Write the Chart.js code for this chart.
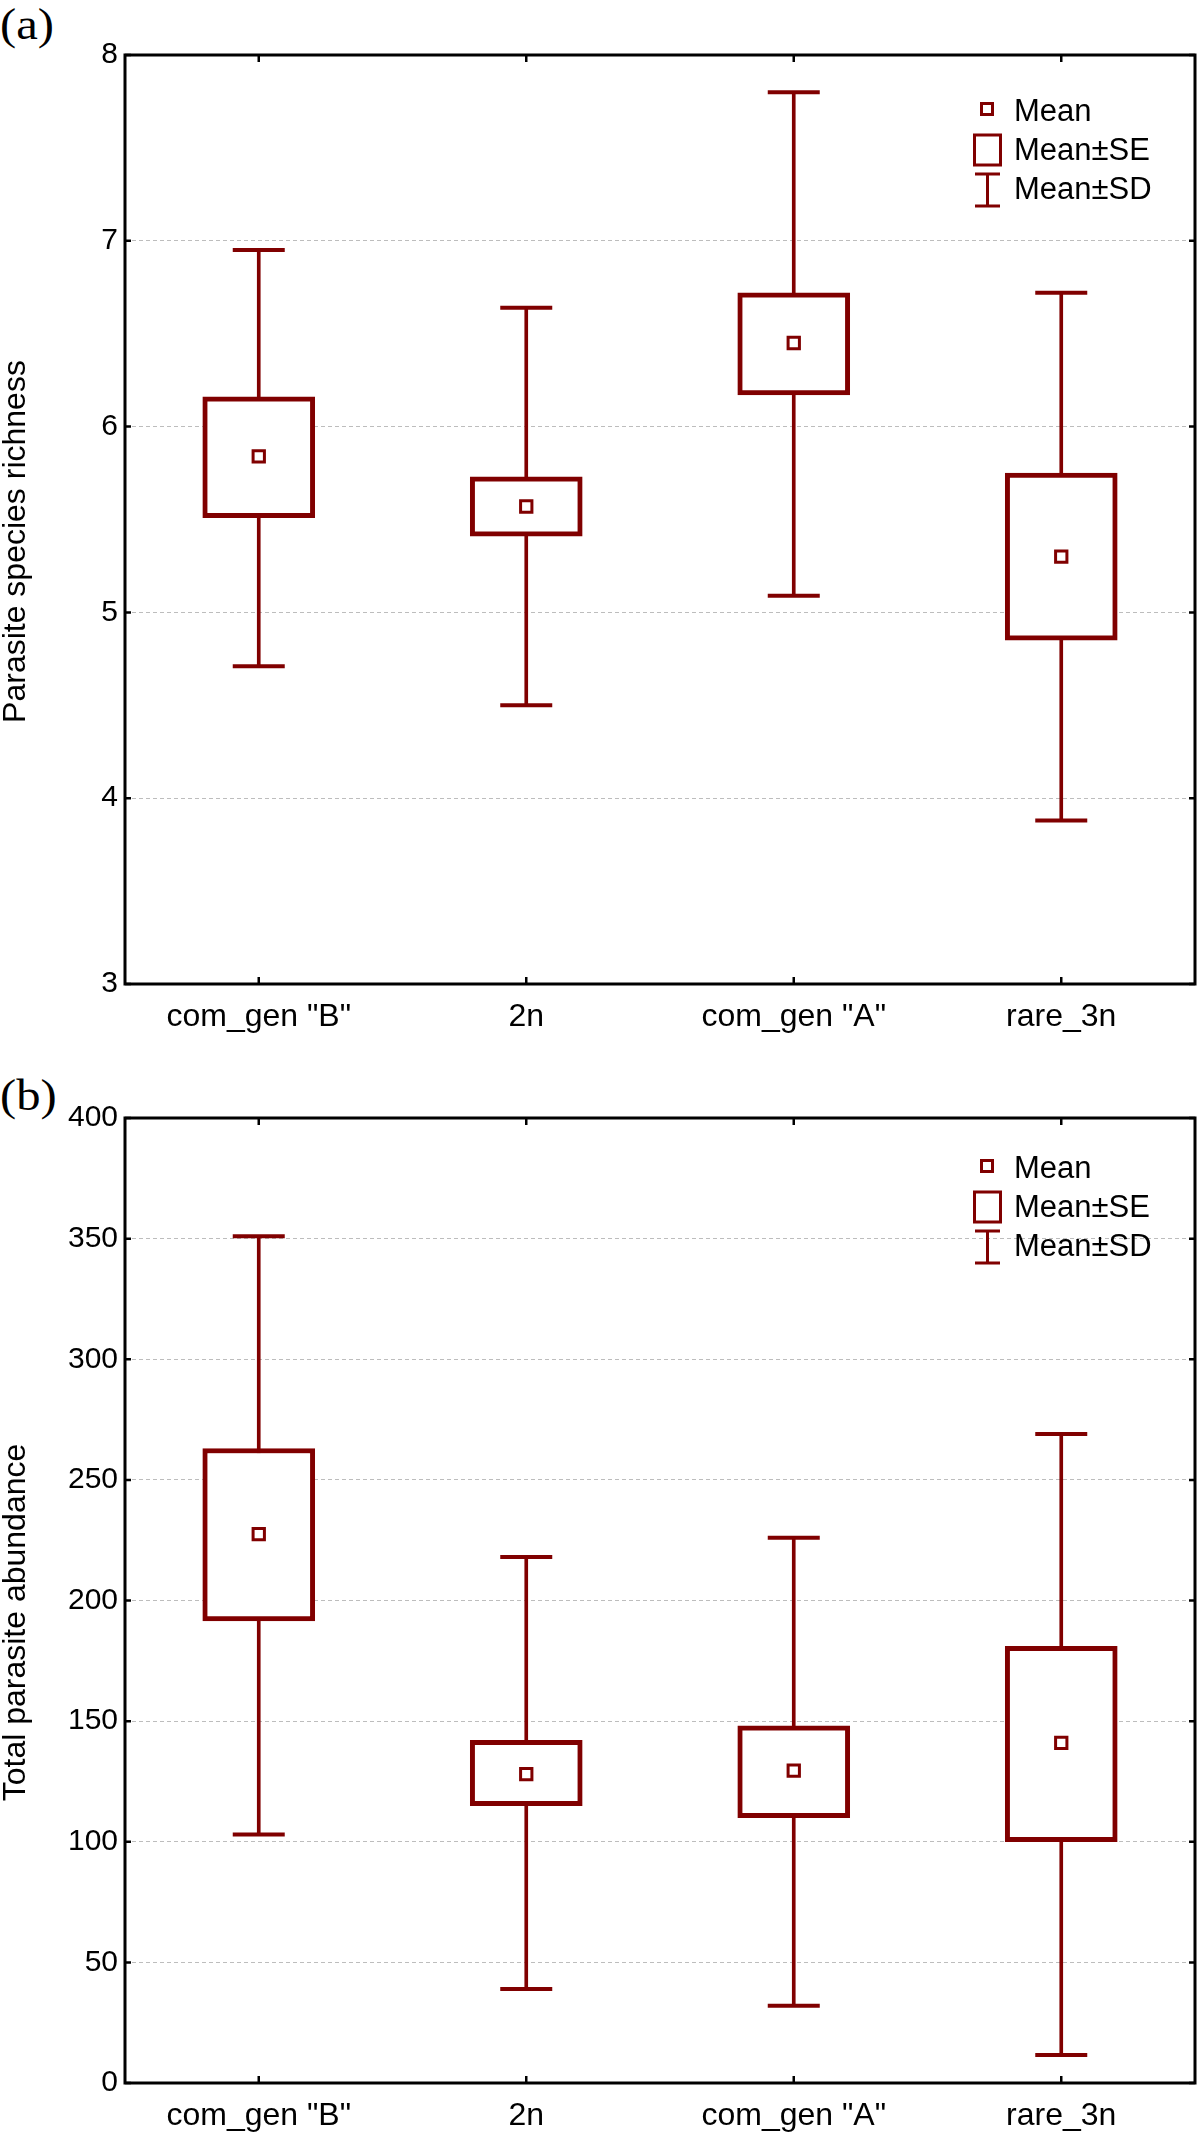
<!DOCTYPE html>
<html>
<head>
<meta charset="utf-8">
<script src="https://cdn.jsdelivr.net/npm/chart.js@4.4.1/dist/chart.umd.min.js"></script>
<style>
  html, body { margin: 0; padding: 0; background: #fff; }
  body { width: 1200px; height: 2132px; position: relative; overflow: hidden; }
  .panel { position: absolute; left: 0; width: 1200px; }
  .plabel { position: absolute; font-family: "Liberation Serif", "Times New Roman", serif; font-size: 45px; color: #000; line-height: 1; transform: scaleX(1.08); transform-origin: 0 0; }
</style>
</head>
<body>
<div class="plabel" style="left:0px; top:2px;">(a)</div>
<div class="plabel" style="left:0px; top:1073px;">(b)</div>
<div class="panel" style="top:0px; height:1062px;"><canvas id="c1" width="1200" height="1062"></canvas></div>
<div class="panel" style="top:1062px; height:1070px;"><canvas id="c2" width="1200" height="1070"></canvas></div>
<script>
// ---------- data ----------
const categories = ['com_gen "B"', '2n', 'com_gen "A"', 'rare_3n'];

// (a) Parasite species richness
const richMean   = [5.84, 5.57, 6.45, 5.30];
const richSeLow  = [5.51, 5.41, 6.17, 4.85];
const richSeHigh = [6.16, 5.73, 6.72, 5.75];
const richSdLow  = [4.71, 4.50, 5.09, 3.88];
const richSdHigh = [6.95, 6.64, 7.80, 6.72];
const richAxis   = { min: 3, max: 8, step: 1 };

// (b) Total parasite abundance
const abMean   = [227.5, 128, 129.5, 141];
const abSeLow  = [191.5, 115, 110, 100];
const abSeHigh = [263, 142, 148, 181];
const abSdLow  = [103, 39, 32, 11.6];
const abSdHigh = [351, 218, 226, 269];
const abAxis   = { min: 0, max: 400, step: 50 };

const legendLabels = ['Mean', 'Mean\u00B1SE', 'Mean\u00B1SD'];

// ---------- style ----------
const RED = '#800000';
const FONT = '"Liberation Sans", Arial, Helvetica, sans-serif';

const framePlugin = {
  id: 'frame',
  afterDraw(chart, args, o) {
    const { ctx, chartArea: a } = chart;
    const xs = chart.scales.x, ys = chart.scales.y;
    ctx.save();
    ctx.strokeStyle = '#000';
    ctx.lineWidth = 3;
    ctx.strokeRect(a.left, a.top, a.right - a.left, a.bottom - a.top);
    // inward tick marks
    ctx.lineWidth = 2.5;
    ctx.beginPath();
    ys.ticks.forEach((t, i) => {
      const y = ys.getPixelForTick(i);
      ctx.moveTo(a.left, y); ctx.lineTo(a.left + 6, y);
      ctx.moveTo(a.right, y); ctx.lineTo(a.right - 6, y);
    });
    xs.ticks.forEach((t, i) => {
      const x = xs.getPixelForTick(i);
      ctx.moveTo(x, a.bottom); ctx.lineTo(x, a.bottom - 7);
      ctx.moveTo(x, a.top); ctx.lineTo(x, a.top + 7);
    });
    ctx.stroke();

    // y axis title
    ctx.save();
    ctx.fillStyle = '#000';
    ctx.font = '32px ' + FONT;
    ctx.textAlign = 'center';
    ctx.textBaseline = 'middle';
    ctx.translate(16, (ys.top + ys.bottom) / 2 + o.titleShift);
    ctx.rotate(-Math.PI / 2);
    ctx.fillText(o.title, 0, 0);
    ctx.restore();

    // legend
    const sx = a.right - 208;
    const tx = a.right - 181;
    const t0 = a.top + o.legShift;
    const g = o.legGap;
    ctx.strokeStyle = RED;
    ctx.lineWidth = 3;
    ctx.strokeRect(sx - 5.5, t0 + 48.5, 11, 11);
    ctx.strokeRect(sx - 12.5, t0 + 80 - (39 - g), 26, 30);
    ctx.beginPath();
    const w1 = t0 + 119 - 2 * (39 - g), w2 = w1 + 32;
    ctx.moveTo(sx - 12, w1); ctx.lineTo(sx + 13, w1);
    ctx.moveTo(sx + 0.5, w1); ctx.lineTo(sx + 0.5, w2);
    ctx.moveTo(sx - 12, w2); ctx.lineTo(sx + 13, w2);
    ctx.stroke();
    ctx.fillStyle = '#000';
    ctx.font = '31px ' + FONT;
    ctx.textBaseline = 'alphabetic';
    ctx.textAlign = 'left';
    ctx.fillText(legendLabels[0], tx, t0 + 66);
    ctx.fillText(legendLabels[1], tx, t0 + 66 + g);
    ctx.fillText(legendLabels[2], tx, t0 + 66 + 2 * g);
    ctx.restore();
  }
};

function makeChart(id, opts) {
  const { mean, seLow, seHigh, sdLow, sdHigh, axis, title, padTop, xHeight, titleShift, legShift, legGap } = opts;
  return new Chart(document.getElementById(id), {
    type: 'bar',
    data: {
      labels: categories,
      datasets: [
        {
          type: 'line', label: 'Mean', data: mean, showLine: false,
          pointStyle: 'rect', pointRadius: 8, pointBorderWidth: 3,
          pointBackgroundColor: '#fff', pointBorderColor: RED, order: 0
        },
        {
          type: 'bar', label: 'Mean\u00B1SE',
          data: seLow.map((l, i) => [l, seHigh[i]]),
          backgroundColor: '#fff', borderColor: RED, borderWidth: 5,
          borderSkipped: false, barThickness: 112, grouped: false, order: 1
        },
        {
          type: 'line', label: 'SD+', data: sdHigh, showLine: false,
          pointStyle: 'line', pointRadius: 26, pointBorderWidth: 4,
          pointBorderColor: RED, order: 2
        },
        {
          type: 'line', label: 'SD-', data: sdLow, showLine: false,
          pointStyle: 'line', pointRadius: 26, pointBorderWidth: 4,
          pointBorderColor: RED, order: 2
        },
        {
          type: 'bar', label: 'Mean\u00B1SD',
          data: sdLow.map((l, i) => [l, sdHigh[i]]),
          backgroundColor: RED, borderWidth: 0,
          barThickness: 3, grouped: false, order: 3
        }
      ]
    },
    options: {
      responsive: false,
      animation: false,
      devicePixelRatio: 1,
      layout: { autoPadding: false, padding: { top: padTop, right: 5, left: 0, bottom: 0 } },
      plugins: {
        legend: { display: false }, tooltip: { enabled: false },
        frame: { title, titleShift, legShift, legGap }
      },
      scales: {
        x: {
          type: 'category',
          offset: true,
          grid: { display: false, drawTicks: false },
          border: { display: false },
          ticks: { color: '#000', font: { family: FONT, size: 32 }, padding: 14, maxRotation: 0, autoSkip: false },
          afterFit: s => { s.height = xHeight; }
        },
        y: {
          min: axis.min, max: axis.max,
          ticks: { stepSize: axis.step, color: '#000', font: { family: FONT, size: 30 }, padding: 7 },
          grid: {
            drawTicks: false,
            lineWidth: 1,
            color: c => (c.tick && (c.tick.value === axis.min || c.tick.value === axis.max)) ? 'rgba(0,0,0,0)' : '#bdbdbd'
          },
          border: { display: false, dash: [4, 3] },
          title: { display: false },
          afterFit: s => { s.width = 125; }
        }
      }
    },
    plugins: [framePlugin]
  });
}

makeChart('c1', {
  mean: richMean, seLow: richSeLow, seHigh: richSeHigh, sdLow: richSdLow, sdHigh: richSdHigh,
  axis: richAxis, title: 'Parasite species richness', padTop: 55, xHeight: 78,
  titleShift: 22, legShift: 0, legGap: 39
});
makeChart('c2', {
  mean: abMean, seLow: abSeLow, seHigh: abSeHigh, sdLow: abSdLow, sdHigh: abSdHigh,
  axis: abAxis, title: 'Total parasite abundance', padTop: 56, xHeight: 49,
  titleShift: 22, legShift: -6, legGap: 39
});
</script>
</body>
</html>
